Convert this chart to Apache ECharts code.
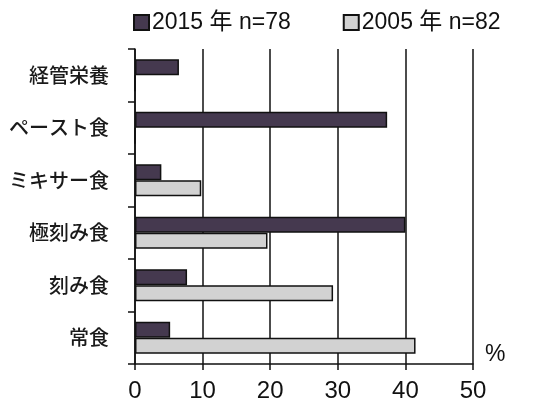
<!DOCTYPE html>
<html>
<head>
<meta charset="utf-8">
<script src="https://cdn.jsdelivr.net/npm/echarts@6/dist/echarts.min.js"></script>
<style>
  html, body { margin: 0; padding: 0; background: #fff; }
  #chart { width: 534px; height: 403px; }
</style>
</head>
<body>
<div id="chart"></div>
<script>
// Meal forms, listed bottom to top as the category axis draws them
const categories = ['常食', '刻み食', '極刻み食', 'ミキサー食', 'ペースト食', '経管栄養'];
const seriesNames = ['2015 年 n=78', '2005 年 n=82'];
const values2015 = [5.2, 7.7, 40.0, 3.9, 37.3, 6.5];
const values2005 = [41.5, 29.3, 19.6, 9.8, 0, 0];
const xTicks = [0, 10, 20, 30, 40, 50];

const latin = '"Liberation Sans", Arial, "Noto Sans CJK JP", sans-serif';
const cjk = '"Noto Sans CJK JP", sans-serif';

const chart = echarts.init(document.getElementById('chart'), null, { renderer: 'canvas' });

chart.setOption({
  animation: false,
  backgroundColor: '#ffffff',
  legend: {
    data: seriesNames,
    left: 133,
    top: 11,
    padding: 0,
    itemWidth: 15,
    itemHeight: 15,
    itemGap: 52,
    icon: 'rect',
    textStyle: { fontFamily: latin, fontSize: 23, color: '#111', padding: [0, 0, 0, -2] }
  },
  grid: { left: 135, right: 61, top: 49, bottom: 37, containLabel: false },
  xAxis: {
    type: 'value',
    min: xTicks[0],
    max: xTicks[xTicks.length - 1],
    interval: 10,
    name: '%',
    nameLocation: 'end',
    nameGap: 12,
    nameTextStyle: { fontFamily: latin, fontSize: 23, color: '#111', verticalAlign: 'bottom', lineHeight: 18 },
    axisLine: { show: true, lineStyle: { color: '#111', width: 1.5 } },
    axisTick: { show: true, length: 6, lineStyle: { color: '#111', width: 1.5 } },
    axisLabel: { fontFamily: latin, fontSize: 24, color: '#111', margin: 15 },
    splitLine: { show: true, lineStyle: { color: '#111', width: 1.5 } }
  },
  yAxis: {
    type: 'category',
    data: categories,
    axisLine: { show: true, lineStyle: { color: '#111', width: 1.5 } },
    axisTick: { show: true, length: 7, lineStyle: { color: '#111', width: 1.5 } },
    axisLabel: { fontFamily: cjk, fontSize: 20, fontWeight: 500, color: '#1a1a1a', margin: 26 },
    splitLine: { show: false }
  },
  series: [
    {
      name: seriesNames[0],
      type: 'bar',
      data: values2015,
      barWidth: 16,
      barGap: '0%',
      itemStyle: { color: '#45394f', borderColor: '#111', borderWidth: 1.5 }
    },
    {
      name: seriesNames[1],
      type: 'bar',
      data: values2005,
      barWidth: 16,
      barGap: '0%',
      itemStyle: { color: '#d2d2d2', borderColor: '#111', borderWidth: 1.5 }
    }
  ]
});
</script>
</body>
</html>
